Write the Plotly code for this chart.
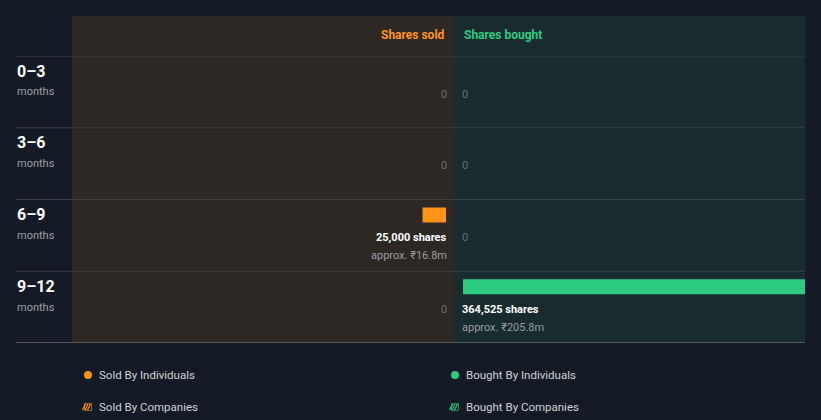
import plotly.graph_objects as go

W, H = 821, 420

periods = ["0–3", "3–6", "6–9", "9–12"]
sold_shares = [0, 0, 25000, 0]
bought_shares = [0, 0, 0, 364525]
sold_value = [None, None, "₹16.8m", None]
bought_value = [None, None, None, "₹205.8m"]
legend_labels = ["Sold By Individuals", "Bought By Individuals", "Sold By Companies", "Bought By Companies"]

BG = "#151b26"
SOLD_BG = "#2d2823"
BOUGHT_BG = "#182b2f"
ORANGE = "#ff9419"
GREEN = "#2ecc80"
FONT = "Roboto"

def px(x):
    return x / W

def py(y):
    return (H - y) / H

idx = list(range(len(periods)))
xmax = max(bought_shares)
sold_range = xmax * (446 - 72) / (805 - 463)

fig = go.Figure()
fig.add_trace(go.Bar(
    orientation="h", x=sold_shares, y=idx, xaxis="x", yaxis="y",
    offset=-0.389, width=0.209, marker=dict(color=ORANGE, line=dict(width=0)),
    hoverinfo="skip", showlegend=False))
fig.add_trace(go.Bar(
    orientation="h", x=bought_shares, y=idx, xaxis="x2", yaxis="y",
    offset=-0.389, width=0.209, marker=dict(color=GREEN, line=dict(width=0)),
    hoverinfo="skip", showlegend=False))

shapes = []
shapes.append(dict(type="rect", xref="paper", yref="paper", x0=px(72), x1=px(455),
                   y0=py(343), y1=py(16), fillcolor=SOLD_BG, line=dict(width=0), layer="below"))
shapes.append(dict(type="rect", xref="paper", yref="paper", x0=px(455), x1=px(805),
                   y0=py(343), y1=py(16), fillcolor=BOUGHT_BG, line=dict(width=0), layer="below"))
for i in idx:
    shapes.append(dict(type="line", xref="paper", yref="y", x0=px(16), x1=px(805),
                       y0=i - 0.5, y1=i - 0.5, line=dict(color="#3b3f44", width=1), layer="above"))
shapes.append(dict(type="line", xref="paper", yref="y", x0=px(16), x1=px(805),
                   y0=len(idx) - 0.5, y1=len(idx) - 0.5, line=dict(color="#8d9196", width=1), layer="above"))

ann = []
ann.append(dict(text="<b>Shares sold</b>", xref="paper", yref="paper", x=px(447), y=py(35),
                xanchor="right", yanchor="middle", showarrow=False,
                font=dict(family=FONT, size=12, color=ORANGE)))
ann.append(dict(text="<b>Shares bought</b>", xref="paper", yref="paper", x=px(462), y=py(35),
                xanchor="left", yanchor="middle", showarrow=False,
                font=dict(family=FONT, size=12, color=GREEN)))

for i, p in enumerate(periods):
    ann.append(dict(text="<b>" + p + "</b>", xref="paper", yref="y", x=px(15), y=i - 0.29,
                    xanchor="left", yanchor="middle", showarrow=False,
                    font=dict(family=FONT, size=16, color="#ffffff")))
    ann.append(dict(text="months", xref="paper", yref="y", x=px(15), y=i - 0.0,
                    xanchor="left", yanchor="middle", showarrow=False,
                    font=dict(family=FONT, size=11, color="#9a9ea4")))
    if sold_shares[i] > 0:
        ann.append(dict(text=f"<b>{sold_shares[i]:,} shares</b>", xref="x", yref="y", x=0, y=i + 0.03,
                        xanchor="right", yanchor="middle", showarrow=False, xshift=3,
                        font=dict(family=FONT, size=11, color="#ffffff")))
        ann.append(dict(text="approx. " + sold_value[i], xref="x", yref="y", x=0, y=i + 0.28,
                        xanchor="right", yanchor="middle", showarrow=False, xshift=3,
                        font=dict(family=FONT, size=11, color="#9a9ea4")))
    else:
        ann.append(dict(text="0", xref="x", yref="y", x=0, y=i + 0.03,
                        xanchor="right", yanchor="middle", showarrow=False, xshift=3,
                        font=dict(family=FONT, size=11, color="#6b6f74")))
    if bought_shares[i] > 0:
        ann.append(dict(text=f"<b>{bought_shares[i]:,} shares</b>", xref="x2", yref="y", x=0, y=i + 0.03,
                        xanchor="left", yanchor="middle", showarrow=False, xshift=-3,
                        font=dict(family=FONT, size=11, color="#ffffff")))
        ann.append(dict(text="approx. " + bought_value[i], xref="x2", yref="y", x=0, y=i + 0.28,
                        xanchor="left", yanchor="middle", showarrow=False, xshift=-3,
                        font=dict(family=FONT, size=11, color="#9a9ea4")))
    else:
        ann.append(dict(text="0", xref="x2", yref="y", x=0, y=i + 0.03,
                        xanchor="left", yanchor="middle", showarrow=False, xshift=-3,
                        font=dict(family=FONT, size=11, color="#6b6f74")))

leg_pos = [(88, 375, ORANGE, False), (455, 375, GREEN, False),
           (88, 407, ORANGE, True), (455, 407, GREEN, True)]
for (lx, ly, col, hatched), lab in zip(leg_pos, legend_labels):
    r = 4
    if not hatched:
        shapes.append(dict(type="circle", xref="paper", yref="paper",
                           x0=px(lx - r), x1=px(lx + r), y0=py(ly + r), y1=py(ly - r),
                           fillcolor=col, line=dict(width=0)))
    else:
        shapes.append(dict(type="rect", xref="paper", yref="paper",
                           x0=px(lx - 3.5), x1=px(lx + 3.5), y0=py(ly + 3.5), y1=py(ly - 3.5),
                           fillcolor="rgba(0,0,0,0)", line=dict(width=0.6, color=col)))
        for d in (-2.5, 0, 2.5):
            shapes.append(dict(type="line", xref="paper", yref="paper",
                               x0=px(lx - 3 + d), y0=py(ly + 3), x1=px(lx + d), y1=py(ly - 3),
                               line=dict(width=1.2, color=col)))
    ann.append(dict(text=lab, xref="paper", yref="paper", x=px(lx + 9), y=py(ly),
                    xanchor="left", yanchor="middle", showarrow=False,
                    font=dict(family=FONT, size=11.5, color="#d0d3d7")))

fig.update_layout(
    width=W, height=H,
    margin=dict(l=0, r=0, t=0, b=0),
    paper_bgcolor=BG, plot_bgcolor="rgba(0,0,0,0)",
    barmode="overlay",
    showlegend=False,
    xaxis=dict(domain=[px(72), px(446)], range=[sold_range, 0], anchor="y",
               showgrid=False, zeroline=False, showticklabels=False, fixedrange=True),
    xaxis2=dict(domain=[px(463), px(805)], range=[0, xmax], anchor="y",
                showgrid=False, zeroline=False, showticklabels=False, fixedrange=True),
    yaxis=dict(domain=[py(343), py(56)], range=[len(idx) - 0.5, -0.5],
               showgrid=False, zeroline=False, showticklabels=False, fixedrange=True),
    shapes=shapes,
    annotations=ann,
)

fig.write_html("out.html", config={"displayModeBar": False},
               post_script="document.body.style.margin='0';document.body.style.overflow='hidden';document.body.style.background='%s';" % BG)
